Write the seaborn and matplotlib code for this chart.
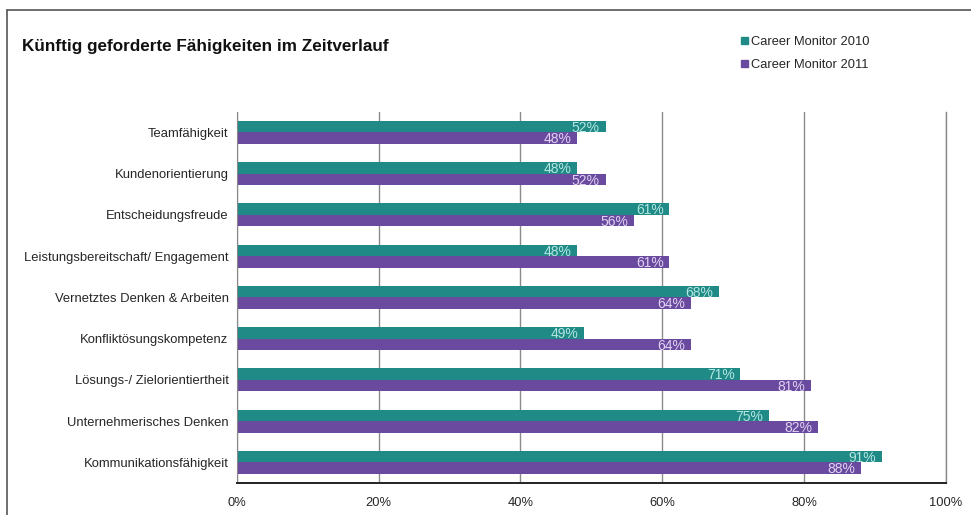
import matplotlib
matplotlib.use("Agg")
import matplotlib.pyplot as plt
import seaborn as sns
import pandas as pd
import numpy as np
from matplotlib.lines import Line2D

# Data
categories = [
    "Teamfähigkeit",
    "Kundenorientierung",
    "Entscheidungsfreude",
    "Leistungsbereitschaft/ Engagement",
    "Vernetztes Denken & Arbeiten",
    "Konfliktösungskompetenz",
    "Lösungs-/ Zielorientiertheit",
    "Unternehmerisches Denken",
    "Kommunikationsfähigkeit",
]
series = ["Career Monitor 2010", "Career Monitor 2011"]
values_2010 = [52, 48, 61, 48, 68, 49, 71, 75, 91]
values_2011 = [48, 52, 56, 61, 64, 64, 81, 82, 88]
x_ticks = [0, 20, 40, 60, 80, 100]

df = pd.DataFrame({
    "Fähigkeit": categories * 2,
    "Wert": values_2010 + values_2011,
    "Serie": [series[0]] * len(categories) + [series[1]] * len(categories),
})

sns.set_style("white")
plt.rcParams["font.family"] = ["Liberation Sans", "DejaVu Sans"]

teal = "#1f8a86"
purple = "#6a4a9e"
label_cols = {series[0]: "#b5e6e2", series[1]: "#e0d2f2"}

fig = plt.figure(figsize=(9.71, 5.15), dpi=100)
ax = fig.add_axes([0.244, 0.062, 0.730, 0.721])

sns.barplot(data=df, y="Fähigkeit", x="Wert", hue="Serie", order=categories,
            hue_order=series, palette=[teal, purple], orient="h",
            width=0.56, ax=ax, legend=False, saturation=1, edgecolor="none")

ax.set_xlim(0, 100)
ax.set_ylim(len(categories) - 0.5, -0.5)
ax.set_xticks(x_ticks)
ax.set_xticklabels([f"{t}%" for t in x_ticks], fontsize=9.3)
ax.tick_params(axis="x", length=0, pad=10)
ax.tick_params(axis="y", length=0, pad=6, labelsize=9.4)
ax.set_yticks(np.arange(len(categories)), minor=False)
ax.set_yticks(np.arange(len(categories) + 1) - 0.5, minor=True)
ax.tick_params(axis="y", which="minor", length=4, color="#777777", width=0.8)
ax.set_xlabel("")
ax.set_ylabel("")

ax.grid(axis="x", color="#8a8a8a", linewidth=1.0)
ax.set_axisbelow(True)
ax.spines["top"].set_visible(False)
ax.spines["right"].set_color("#8a8a8a")
ax.spines["right"].set_linewidth(1.0)
ax.spines["left"].set_color("#888888")
ax.spines["bottom"].set_color("#222222")
ax.spines["bottom"].set_linewidth(1.4)

# value labels inside the bar ends
for cont, name in zip(ax.containers, series):
    for bar in cont:
        w = bar.get_width()
        yc = bar.get_y() + bar.get_height() / 2
        ax.text(w - 0.8, yc + 0.03, f"{int(round(w))}%", ha="right", va="center",
                fontsize=10, color=label_cols[name])

# title and legend
fig.text(0.023, 0.91, "Künftig geforderte Fähigkeiten im Zeitverlauf",
         fontsize=12.3, fontweight="bold", color="#111111", va="center")
handles = [plt.Rectangle((0, 0), 1, 1, color=teal),
           plt.Rectangle((0, 0), 1, 1, color=purple)]
fig.legend(handles, series, loc="upper left", bbox_to_anchor=(0.754, 0.948),
           frameon=False, fontsize=9.3, handlelength=0.5, handleheight=0.5,
           handletextpad=0.25, labelspacing=0.85, borderpad=0.2)

# outer frame
fig.add_artist(Line2D([0.0072, 0.0072], [0.0, 0.981], color="#555555", lw=1.2))
fig.add_artist(Line2D([0.0072, 1.0], [0.981, 0.981], color="#555555", lw=1.2))

fig.savefig("out.png", dpi=100)
